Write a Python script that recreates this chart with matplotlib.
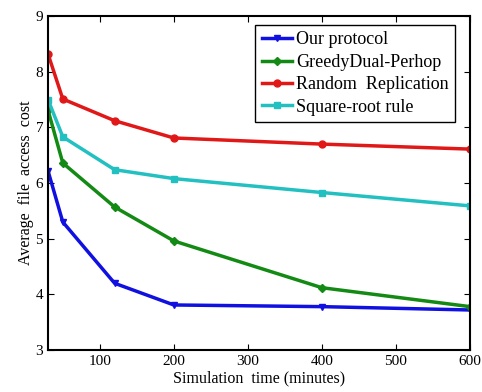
import matplotlib
matplotlib.use("Agg")
import matplotlib.pyplot as plt

# Data
sim_time = [30, 50, 120, 200, 400, 600]
our_protocol = [6.22, 5.30, 4.20, 3.81, 3.78, 3.72]
greedy_dual = [7.31, 6.36, 5.57, 4.96, 4.12, 3.78]
random_repl = [8.32, 7.51, 7.12, 6.81, 6.70, 6.61]
square_root = [7.50, 6.83, 6.24, 6.08, 5.83, 5.59]

labels = ["Our protocol", "GreedyDual-Perhop", "Random  Replication", "Square-root rule"]
x_ticks = [100, 200, 300, 400, 500, 600]
y_ticks = [3, 4, 5, 6, 7, 8, 9]

plt.rcParams["font.family"] = ["Liberation Serif", "DejaVu Serif"]

fig = plt.figure(figsize=(4.82, 3.92), dpi=100)
ax = fig.add_axes([0.0996, 0.107, 0.8755, 0.852])

ax.plot(sim_time, our_protocol, color="#1010e0", marker="v", ms=5, lw=2.5, label=labels[0])
ax.plot(sim_time, greedy_dual, color="#138a13", marker="D", ms=4, lw=2.5, label=labels[1])
ax.plot(sim_time, random_repl, color="#e01818", marker="o", ms=5, lw=2.5, label=labels[2])
ax.plot(sim_time, square_root, color="#22c0c0", marker="s", ms=5, lw=2.5, label=labels[3])

ax.set_xlim(30, 600)
ax.set_ylim(3, 9)
ax.set_xticks(x_ticks)
ax.set_yticks(y_ticks)
ax.tick_params(direction="in", top=True, right=True, labelsize=11, length=4)
for s in ax.spines.values():
    s.set_linewidth(1.5)

ax.set_xlabel("Simulation  time (minutes)", fontsize=11.5, labelpad=2)
ax.set_ylabel("Average  file  access  cost", fontsize=11.5, labelpad=1)

leg = ax.legend(loc="upper right", bbox_to_anchor=(0.964, 0.973), fontsize=13,
                fancybox=False, framealpha=1, edgecolor="black",
                handlelength=1.7, handletextpad=0.2, borderpad=0.35,
                labelspacing=0.3, borderaxespad=0)
leg.get_frame().set_linewidth(1.0)

fig.savefig("out.png", dpi=100)
